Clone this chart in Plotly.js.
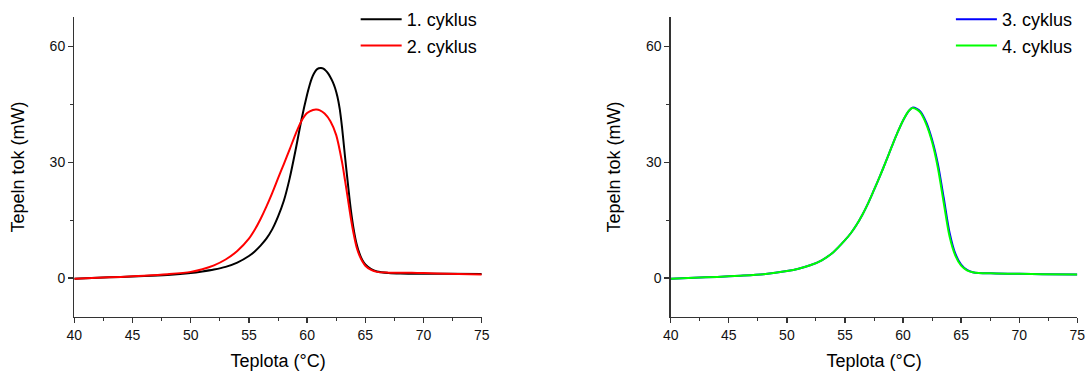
<!DOCTYPE html>
<html>
<head>
<meta charset="utf-8">
<script src="https://cdn.plot.ly/plotly-3.0.1.min.js"></script>
<style>html,body{margin:0;padding:0;background:#fff;}#chart{width:1086px;height:371px;}</style>
</head>
<body>
<div id="chart"></div>
<script>
// Temperature (°C) and heat flow (mW)
const temp1 = [40, 42, 44, 46, 48, 50, 51, 52, 53, 54, 55, 55.5, 56, 56.5, 57, 57.5, 58, 58.5, 59, 59.5, 60, 60.2, 60.4, 60.6, 60.8, 61, 61.2, 61.4, 61.6, 61.8, 62, 62.2, 62.4, 62.6, 62.8, 63, 63.25, 63.5, 63.75, 64, 64.25, 64.5, 64.75, 65, 65.5, 66, 67, 68, 69, 70, 72, 75];
const cyklus1 = [-0.2, 0.1, 0.3, 0.5, 0.8, 1.3, 1.7, 2.2, 2.9, 4.0, 5.7, 6.9, 8.4, 10.2, 12.6, 15.9, 20.0, 25.8, 33.0, 40.8, 47.5, 49.8, 51.7, 53.0, 53.9, 54.3, 54.4, 54.2, 53.7, 53.0, 52.0, 50.8, 49.2, 47.0, 43.8, 39.0, 31.6, 24.5, 17.8, 12.6, 8.8, 6.3, 4.6, 3.5, 2.3, 1.7, 1.3, 1.15, 1.1, 1.1, 1.1, 1.05];

const temp2 = [40, 42, 44, 46, 48, 50, 51, 52, 53, 54, 55, 55.5, 56, 56.5, 57, 57.5, 58, 58.5, 59, 59.5, 60, 60.5, 60.8, 61.1, 61.5, 62, 62.5, 63, 63.25, 63.5, 63.75, 64, 64.25, 64.5, 64.75, 65, 65.5, 66, 67, 68, 69, 70, 72, 75];
const cyklus2 = [-0.2, 0.1, 0.3, 0.6, 1.0, 1.6, 2.3, 3.3, 4.8, 7.0, 10.2, 12.5, 15.3, 18.5, 22.0, 25.8, 29.5, 33.3, 37.2, 40.6, 42.7, 43.5, 43.6, 43.4, 42.6, 40.6, 37.0, 30.0, 25.4, 20.5, 15.6, 11.4, 8.0, 5.8, 4.3, 3.2, 2.1, 1.6, 1.4, 1.35, 1.4, 1.3, 1.1, 0.95];

const temp34 = [40, 42, 44, 46, 48, 50, 51, 52, 53, 54, 55, 55.5, 56, 56.5, 57, 57.5, 58, 58.5, 59, 59.5, 60, 60.5, 60.8, 61.2, 61.5, 62, 62.5, 63, 63.5, 64, 64.5, 65, 65.5, 66, 66.5, 68, 70, 72, 75];
const cyklus3 = [-0.2, 0.1, 0.3, 0.6, 1.0, 1.8, 2.4, 3.3, 4.6, 6.7, 9.8, 11.6, 13.8, 16.4, 19.4, 22.8, 26.3, 30.0, 33.8, 37.5, 40.8, 43.3, 44.1, 43.8, 43.1, 40.3, 35.8, 29.5, 20.8, 11.8, 6.3, 3.5, 2.1, 1.5, 1.3, 1.2, 1.1, 1.0, 0.95];
const cyklus4 = [-0.2, 0.1, 0.3, 0.6, 1.0, 1.8, 2.4, 3.3, 4.6, 6.7, 9.8, 11.6, 13.8, 16.4, 19.4, 22.8, 26.3, 30.0, 33.8, 37.5, 40.8, 43.3, 44.0, 43.6, 42.8, 39.8, 35.2, 28.5, 19.5, 10.8, 5.8, 3.2, 2.0, 1.5, 1.3, 1.2, 1.1, 1.0, 0.95];

const names = ['1. cyklus', '2. cyklus', '3. cyklus', '4. cyklus'];
const xTickVals = [40, 45, 50, 55, 60, 65, 70, 75];
const yTickVals = [0, 30, 60];

const FONT = 'Liberation Sans, Arial, sans-serif';
const AXC = '#333';

function line(x, y, name, color, xa, ya, leg) {
  return {x: x, y: y, name: name, type: 'scatter', mode: 'lines',
    line: {color: color, width: 2, shape: 'spline', smoothing: 0.8},
    xaxis: xa, yaxis: ya, legend: leg, hoverinfo: 'skip'};
}

const data = [
  line(temp1, cyklus1, names[0], '#000000', 'x', 'y', 'legend'),
  line(temp2, cyklus2, names[1], '#ff0000', 'x', 'y', 'legend'),
  line(temp34, cyklus3, names[2], '#0000ff', 'x2', 'y2', 'legend2'),
  line(temp34, cyklus4, names[3], '#00ff00', 'x2', 'y2', 'legend2')
];

function xax(domain, anchor) {
  return {domain: domain, anchor: anchor, range: [40, 75], tickvals: xTickVals,
    showline: true, linecolor: AXC, linewidth: 1.3, ticks: 'outside', ticklen: 5, tickwidth: 1.3, tickcolor: AXC,
    minor: {ticks: 'outside', ticklen: 3, tickwidth: 1, tickcolor: AXC, dtick: 2.5, tick0: 40, showgrid: false},
    showgrid: false, zeroline: false, tickfont: {family: FONT, size: 14, color: '#111'},
    title: {text: 'Teplota (°C)', font: {family: FONT, size: 18, color: '#000'}, standoff: 12}};
}
function yax(anchor) {
  return {domain: [0.1464, 0.9534], anchor: anchor, range: [-10, 67.5], tickvals: yTickVals,
    showline: true, linecolor: AXC, linewidth: 1.3, ticks: 'outside', ticklen: 5, tickwidth: 1.3, tickcolor: AXC,
    minor: {ticks: 'outside', ticklen: 3, tickwidth: 1, tickcolor: AXC, dtick: 15, tick0: 0, showgrid: false},
    showgrid: false, zeroline: false, tickfont: {family: FONT, size: 14, color: '#111'},
    title: {text: 'Tepeln tok (mW)', font: {family: FONT, size: 18, color: '#000'}, standoff: 20}};
}

const layout = {
  width: 1086, height: 371,
  margin: {l: 0, r: 0, t: 0, b: 0},
  paper_bgcolor: '#fff', plot_bgcolor: '#fff',
  font: {family: FONT, color: '#000'},
  xaxis: xax([0.0684, 0.4436], 'y'),
  yaxis: yax('x'),
  xaxis2: xax([0.6176, 0.9920], 'y2'),
  yaxis2: yax('x2'),
  legend: {x: 0.3275, y: 0.9973, xanchor: 'left', yanchor: 'top', bgcolor: 'rgba(0,0,0,0)',
    font: {family: FONT, size: 18, color: '#000'}, itemwidth: 41, tracegroupgap: 0},
  legend2: {x: 0.8756, y: 0.9973, xanchor: 'left', yanchor: 'top', bgcolor: 'rgba(0,0,0,0)',
    font: {family: FONT, size: 18, color: '#000'}, itemwidth: 41, tracegroupgap: 0},
  showlegend: true
};

Plotly.newPlot('chart', data, layout, {staticPlot: true, displayModeBar: false});
</script>
</body>
</html>
